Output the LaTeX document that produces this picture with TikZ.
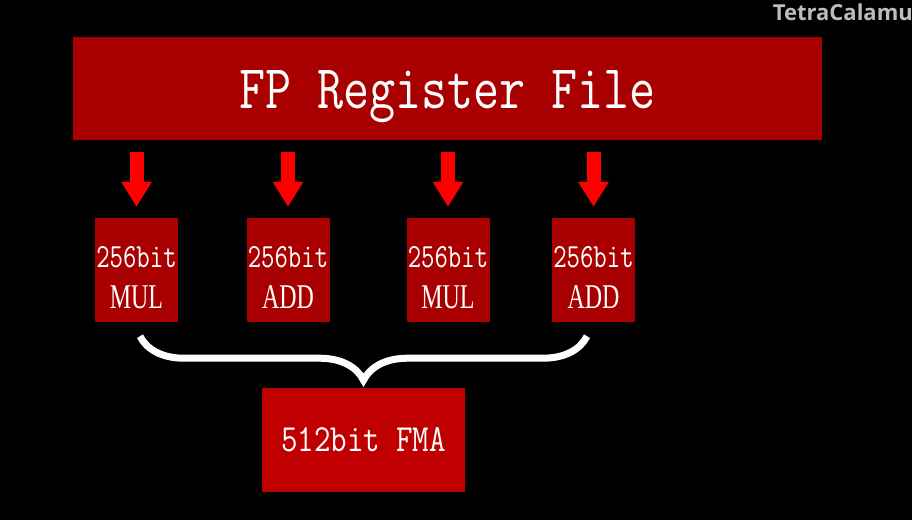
\documentclass[tikz,border=0pt]{standalone}
\usepackage{fontspec}
\usepackage{graphicx}
\setmainfont{Liberation Serif}
\setsansfont{Open Sans}
\usetikzlibrary{positioning,arrows.meta,decorations.pathreplacing}
\definecolor{regred}{HTML}{A80000}
\definecolor{fmared}{HTML}{C00000}
\definecolor{markgray}{HTML}{BDBDBD}
\newcommand{\tallbox}[3]{\scalebox{#1}[#2]{#3}}
\newcommand{\unitlabel}[1]{\tallbox{1}{1.3}{\ttfamily\fontsize{26}{41}\selectfont 256bit}\\
  \tallbox{0.69}{1}{\rmfamily\fontsize{34.7}{41}\selectfont #1}}

\begin{document}
\begin{tikzpicture}[x=1pt,y=-1pt,
    unitbox/.style={fill=regred, text=white, minimum width=83pt, minimum height=104pt,
      inner sep=0pt, align=center, font=\fontsize{26}{41}\selectfont,
      text height=77pt, text depth=0pt},
    feed/.style={draw=red, line width=14pt, -{Triangle[width=29pt,length=25pt]},
      shorten <=12pt, shorten >=11pt}]
  \fill[black] (0,0) rectangle (912,520);
  \useasboundingbox (0,0) rectangle (912,520);

  % register file on top
  \node (reg) [fill=regred, text=white, minimum width=749pt, minimum height=103pt, inner sep=0pt,
    text height=39pt, text depth=0pt,
    font=\ttfamily\fontsize{50.6}{51}\selectfont] at (447.5,88.5) {\tallbox{1}{1.23}{FP Register File}};

  % the four 256bit units
  \node (mul1) [unitbox] at (136.5,270) {\unitlabel{MUL}};
  \node (add1) [unitbox] at (288,270) {\unitlabel{ADD}};
  \node (mul2) [unitbox] at (448,270) {\unitlabel{MUL}};
  \node (add2) [unitbox] at (593.5,270) {\unitlabel{ADD}};

  \node (fma) [fill=fmared, text=white, minimum width=203pt, minimum height=104pt, inner sep=0pt,
    font=\ttfamily\fontsize{32}{32}\selectfont] at (363.5,440) {\tallbox{1}{1.2}{512bit FMA}};

  \node (mark) [anchor=east, text=markgray, font=\sffamily\bfseries\fontsize{22}{22}\selectfont,
    inner sep=0pt] at (913,12) {TetraCalamu};

  \foreach \u in {mul1,add1,mul2,add2}
    \draw[feed] (reg.south -| \u.north) -- (\u.north);

  \coordinate (bl) at ([xshift=3.5pt,yshift=-14pt]mul1.south);
  \coordinate (br) at ([xshift=-6.5pt,yshift=-14pt]add2.south);
  \draw[white, line width=7pt, decorate, decoration={brace, amplitude=44pt, mirror}] (bl) -- (br);

\end{tikzpicture}
\end{document}
